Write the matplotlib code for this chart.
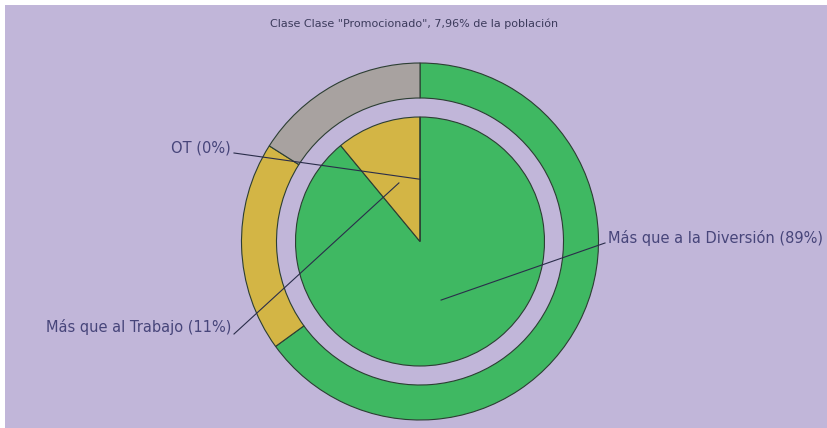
import numpy as np
import matplotlib
matplotlib.use("Agg")
from matplotlib import pyplot as plt

# inner pie: the class "Promocionado"
inner_labels = ["Más que a la Diversión", "Más que al Trabajo", "OT"]
inner_values = [89, 11, 0]
# outer ring: whole population
outer_values = [65, 19, 16]

title = 'Clase Clase "Promocionado", 7,96% de la población'

GREEN = '#3fb862'
YELLOW = '#d3b545'
GRAY = '#a8a2a0'
BG = '#c1b6d9'
EDGE = '#2c3e33'
TEXT = '#47457a'

W, H = 828, 428
fig = plt.figure(figsize=(W / 100, H / 100), dpi=100, facecolor='white')
ax = fig.add_axes([0, 0, 1, 1])
ax.set_facecolor('white')

center = (420, H - 241.5)
r_out = 178.5
r_ring_in = 143.5
r_pie = 124.5

ax.pie(outer_values, colors=[GREEN, YELLOW, GRAY], startangle=90,
       counterclock=False, center=center, radius=r_out,
       wedgeprops=dict(width=r_out - r_ring_in, edgecolor=EDGE, linewidth=0.8))
ax.pie(inner_values, colors=[GREEN, YELLOW, GRAY], startangle=90,
       counterclock=False, center=center, radius=r_pie,
       wedgeprops=dict(edgecolor=EDGE, linewidth=0.8))

# lavender panel with thin white margin at top and left
ax.add_patch(plt.Rectangle((5, 0), W - 5, H - 5, facecolor=BG,
                           edgecolor='none', zorder=-10))

ax.set_xlim(0, W)
ax.set_ylim(0, H)
ax.set_aspect('equal')
ax.axis('off')
ax.set_frame_on(False)

ax.text(414, H - 24, title, ha='center', va='center',
        fontsize=8, color='#3c3b5c', family='DejaVu Sans')

# leader lines from the middle of each slice (half radius)
text_pos = [(608, H - 238, 'left'), (231, H - 327, 'right'),
            (231, H - 148, 'right')]
line_start = [(605, H - 243), (234, H - 334), (234, H - 153)]
total = float(sum(inner_values))
cum = 0.0
for i, (lab, val) in enumerate(zip(inner_labels, inner_values)):
    mid = cum + val / 2.0
    cum += val
    ang = np.deg2rad(90 - 360.0 * mid / total)
    ax_x = center[0] + 0.5 * r_pie * np.cos(ang)
    ax_y = center[1] + 0.5 * r_pie * np.sin(ang)
    tx, ty, ha = text_pos[i]
    sx, sy = line_start[i]
    ax.plot([sx, ax_x], [sy, ax_y], color='#2a2d4a', lw=0.8, zorder=5)
    ax.text(tx, ty, "%s (%d%%)" % (lab, val), ha=ha, va='center',
            fontsize=10.5, color=TEXT, family='DejaVu Sans')

fig.savefig('out.png', dpi=100, facecolor='white')
